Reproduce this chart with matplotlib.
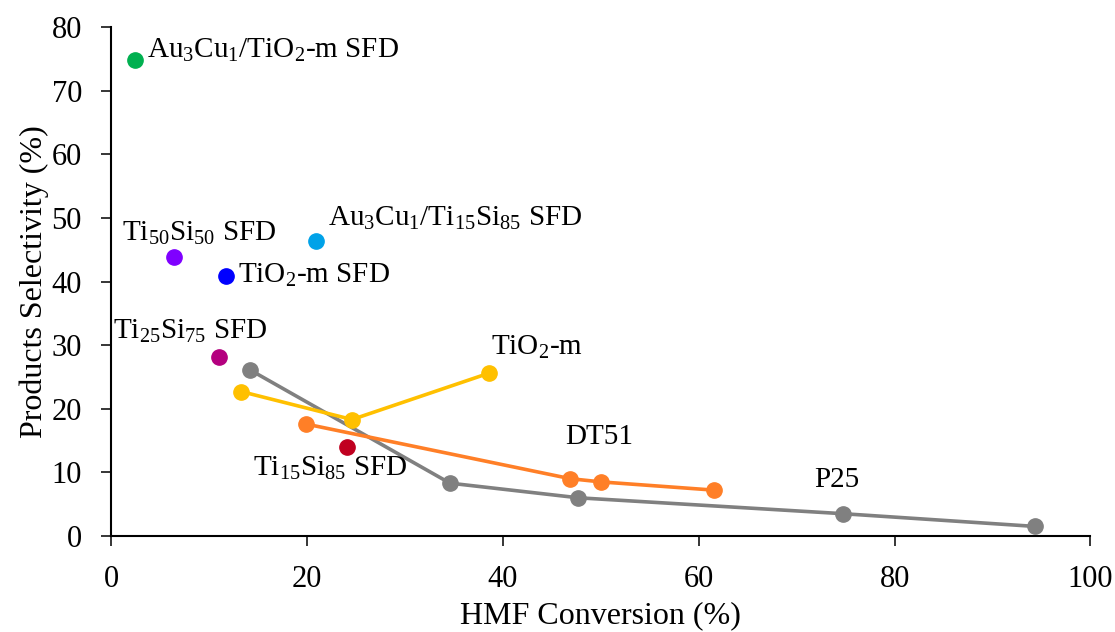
import matplotlib
matplotlib.use('Agg')
import matplotlib.pyplot as plt

plt.rcParams.update({
    'font.family': 'Liberation Serif',
    'font.size': 21,
    'mathtext.fontset': 'custom',
    'mathtext.rm': 'Liberation Serif',
    'mathtext.it': 'Liberation Serif:italic',
    'mathtext.bf': 'Liberation Serif:bold',
})

# single-point catalysts (SFD series)
single_names = [r'$\mathrm{Au_3Cu_1/TiO_2}$-m SFD', r'$\mathrm{Ti_{50}Si_{50}}$ SFD',
                r'$\mathrm{TiO_2}$-m SFD', r'$\mathrm{Au_3Cu_1/Ti_{15}Si_{85}}$ SFD',
                r'$\mathrm{Ti_{25}Si_{75}}$ SFD', r'$\mathrm{Ti_{15}Si_{85}}$ SFD']
single_x = [2.4, 6.4, 11.7, 20.9, 11.0, 24.1]
single_y = [74.8, 43.8, 40.9, 46.4, 28.1, 14.0]
single_colors = ['#00B050', '#7F00FF', '#0000FF', '#00A2E8', '#B4007F', '#C00020']
label_xy = [(3.7, 76.4), (1.1, 47.6), (13.0, 40.9), (22.1, 49.9), (0.2, 32.2), (14.5, 10.6)]

# conversion series (commercial / mesoporous supports)
tio2_x = [13.3, 24.6, 38.6]
tio2_y = [22.7, 18.3, 25.6]
dt51_x = [19.9, 46.9, 50.0, 61.6]
dt51_y = [17.6, 9.0, 8.5, 7.2]
p25_x = [14.2, 34.6, 47.7, 74.7, 94.3]
p25_y = [26.1, 8.3, 6.0, 3.5, 1.5]

fig = plt.figure(figsize=(11.15, 6.32), dpi=100)
ax = fig.add_axes([0.0996, 0.152, 0.8784, 0.805])

lw, ms = 2.6, 11
ax.plot(p25_x, p25_y, '-o', color='#808080', lw=lw, ms=ms, zorder=3)
ax.plot(dt51_x, dt51_y, '-o', color='#FF7F27', lw=lw, ms=ms, zorder=4)
ax.plot(tio2_x, tio2_y, '-o', color='#FFC000', lw=lw, ms=ms, zorder=3)

for xv, yv, c in zip(single_x, single_y, single_colors):
    ax.plot(xv, yv, 'o', color=c, ms=ms, zorder=5)

for name, (tx, ty) in zip(single_names, label_xy):
    ax.text(tx, ty, name, ha='left', va='center')

ax.text(38.8, 29.7, r'$\mathrm{TiO_2}$-m', ha='left', va='center')
ax.text(49.8, 15.6, 'DT51', ha='center', va='center')
ax.text(74.1, 8.8, 'P25', ha='center', va='center')

ax.set_xlim(0, 100)
ax.set_ylim(0, 80)
ax.set_xticks(range(0, 101, 20))
ax.set_yticks(range(0, 81, 10))
ax.set_xlabel('HMF Conversion (%)', fontsize=23, labelpad=5)
ax.set_ylabel('Products Selectivity (%)', fontsize=23, labelpad=2)
ax.tick_params(direction='out', length=7, width=1.1, pad=14, labelsize=22)
for s in ('top', 'right'):
    ax.spines[s].set_visible(False)
for s in ('left', 'bottom'):
    ax.spines[s].set_linewidth(1.5)

fig.savefig('out.png', dpi=100, facecolor='white')
